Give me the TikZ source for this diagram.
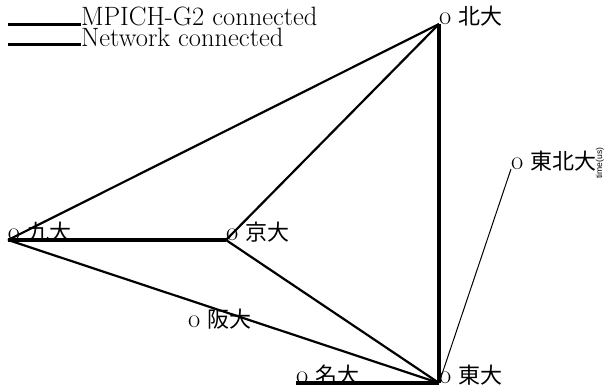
\documentclass[tikz,border=0pt]{standalone}
\usepackage{fontspec}
\newfontfamily\cjk{Noto Sans CJK JP}
\newfontfamily\plotsans{Liberation Sans}
\newcommand{\univ}[1]{o\hspace{7pt}{\cjk\fontsize{22}{22}\selectfont #1}}
\tikzset{
  site/.style={anchor=base west, inner sep=0pt, outer sep=0pt, font=\fontsize{26.5}{26.5}\selectfont},
  legendtext/.style={anchor=base west, inner sep=0pt, outer sep=0pt, font=\fontsize{26.5}{26.5}\selectfont},
  mpich/.style={line width=3.6pt},
  netw/.style={line width=2.2pt},
  thinlink/.style={line width=1pt}
}
\begin{document}
\begin{tikzpicture}[x=1pt,y=-1pt]
\useasboundingbox (0,0) rectangle (606,389);
% legend
\coordinate (l1s) at (8,24.5);
\coordinate (l2s) at (8,44.5);
\node[legendtext] (l1) at (81,25) {MPICH-G2 connected};
\node[legendtext] (l2) at (81,46) {Network connected};
\draw[mpich] (l1s) -- (l1s -| l1.west);
\draw[netw] (l2s) -- (l2s -| l2.west);
% sites
\coordinate (hok) at (439,24);
\coordinate (toh) at (511,169);
\coordinate (kyu) at (8,240);
\coordinate (kyo) at (226,240);
\coordinate (osa) at (188,327);
\coordinate (nag) at (296,383);
\coordinate (tok) at (439,383);
\node[site] (hokL) at (hok) {\univ{北大}};
\node[site] (tohL) at (toh) {\univ{東北大}};
\node[site] (kyuL) at (kyu) {\univ{九大}};
\node[site] (kyoL) at (kyo) {\univ{京大}};
\node[site] (osaL) at (osa) {\univ{阪大}};
\node[site] (nagL) at (nag) {\univ{名大}};
\node[site] (tokL) at (tok) {\univ{東大}};
% links
\draw[mpich] (kyu) -- (kyo);
\draw[mpich] (hok) -- (tok);
\draw[mpich] (nag) -- (tok);
\draw[netw] (kyu) -- (hok);
\draw[netw] (kyu) -- (tok);
\draw[netw] (kyo) -- (hok);
\draw[netw] (kyo) -- (tok);
\draw[thinlink] (toh) -- (tok);
% axis label
\node[rotate=90, inner sep=0pt, font=\plotsans\fontsize{8.6}{8.6}\selectfont] (ylab) at (600,163) {time(us)};
\end{tikzpicture}
\end{document}
